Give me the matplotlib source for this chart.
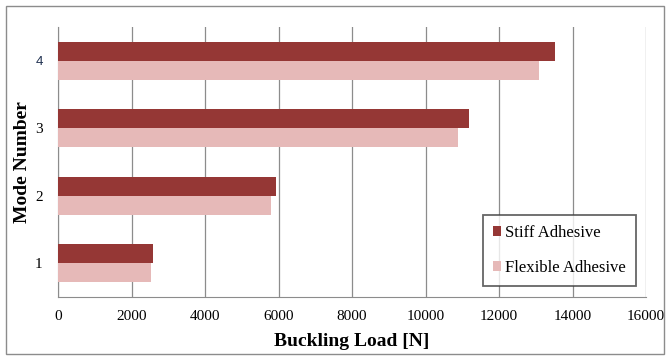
import matplotlib
matplotlib.use("Agg")
import matplotlib.pyplot as plt
from matplotlib.patches import Rectangle
import numpy as np

# Buckling load per mode for the two adhesive types
modes = ["1", "2", "3", "4"]
stiff_load = [2580, 5920, 11190, 13530]
flexible_load = [2540, 5800, 10880, 13100]
x_ticks = [0, 2000, 4000, 6000, 8000, 10000, 12000, 14000, 16000]

stiff_color = "#953735"
flex_color = "#E6B9B8"
grid_color = "#8C8C8C"

plt.rcParams["font.family"] = ["Liberation Serif", "DejaVu Serif"]

fig = plt.figure(figsize=(6.7, 3.58), dpi=100)
ax = fig.add_axes([58 / 670, 1 - 297 / 358, (646 - 58) / 670, (297 - 27) / 358])

y = np.arange(len(modes))
h = 0.28
ax.barh(y + h / 2, stiff_load, height=h, color=stiff_color, label="Stiff Adhesive", zorder=3)
ax.barh(y - h / 2, flexible_load, height=h, color=flex_color, label="Flexible Adhesive", zorder=3)

ax.set_xlim(0, 16000)
ax.set_ylim(-0.5, 3.5)
ax.set_xticks(x_ticks)
ax.set_xticklabels([str(t) for t in x_ticks], fontsize=11)
ax.set_yticks(y)
ax.set_yticklabels(modes, fontsize=11)
# the top category label is set in a sans face
top_label = ax.get_yticklabels()[-1]
top_label.set_fontfamily(["Liberation Sans", "DejaVu Sans"])
top_label.set_color("#1F3050")
top_label.set_fontsize(9.5)

ax.tick_params(axis="x", length=0, pad=9)
ax.tick_params(axis="y", length=0, pad=11)
ax.xaxis.grid(True, color=grid_color, linewidth=0.9, zorder=0)
ax.set_axisbelow(True)
for s in ["top", "right"]:
    ax.spines[s].set_visible(False)
ax.spines["left"].set_color(grid_color)
ax.spines["bottom"].set_color(grid_color)

ax.set_xlabel("Buckling Load [N]", fontsize=14, fontweight="bold", va="center")
ax.xaxis.set_label_coords(0.5, (297 - 341) / 270)
ax.set_ylabel("Mode Number", fontsize=14, fontweight="bold", va="center")
ax.yaxis.set_label_coords((22 - 58) / 588, (297 - 162) / 270)

leg = ax.legend(loc="lower right", bbox_to_anchor=(636 / 670, 1 - 286 / 358),
                bbox_transform=fig.transFigure, fontsize=12, frameon=True,
                fancybox=False, handlelength=0.5, handleheight=0.5,
                handletextpad=0.25, labelspacing=1.15, borderpad=0.6,
                borderaxespad=0)
leg.get_frame().set_edgecolor("#404040")
leg.get_frame().set_linewidth(1.3)

# chart area frame
fig.patches.append(Rectangle((6 / 670, 4 / 358), 658 / 670, 348 / 358,
                             transform=fig.transFigure, fill=False,
                             edgecolor="#8C8C8C", linewidth=1.0))

fig.savefig("out.png", dpi=100)
